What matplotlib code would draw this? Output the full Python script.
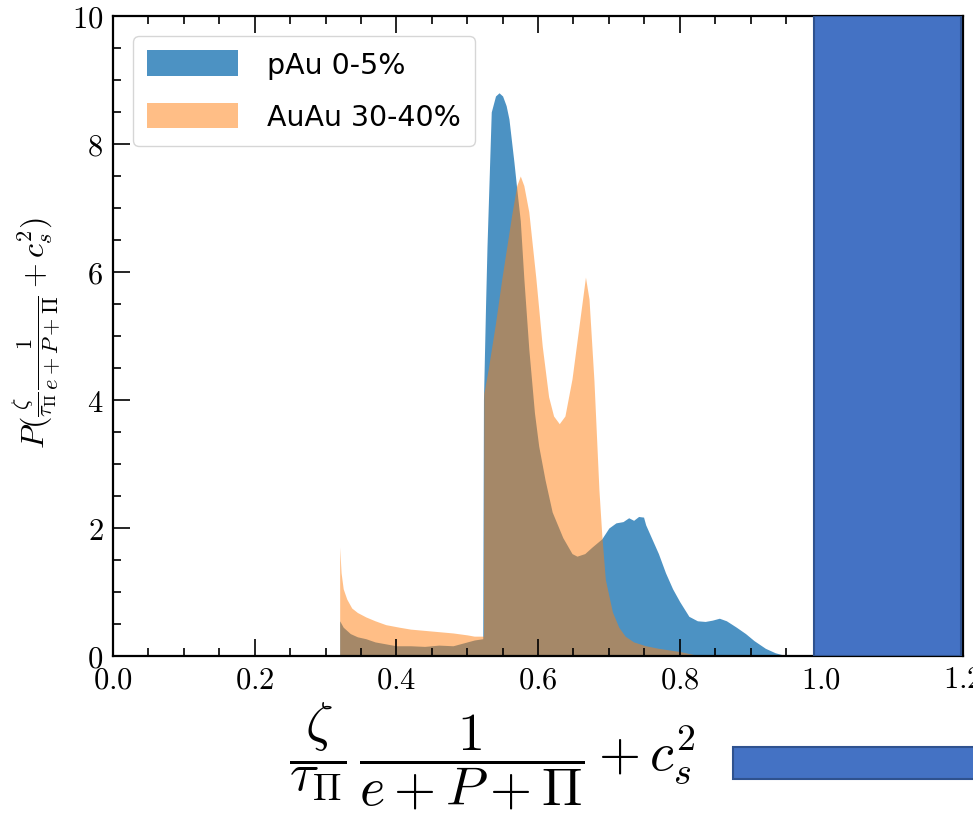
import matplotlib
matplotlib.use("Agg")
import matplotlib.pyplot as plt
from matplotlib.patches import Rectangle
from matplotlib.ticker import MultipleLocator

plt.rcParams["font.family"] = "serif"
plt.rcParams["font.serif"] = ["cmr10"]
plt.rcParams["mathtext.fontset"] = "cm"
plt.rcParams["axes.formatter.use_mathtext"] = True

# pAu 0-5%
pau_x = [0.320, 0.320, 0.325, 0.335, 0.345, 0.357, 0.370, 0.385, 0.400, 0.420,
         0.440, 0.460, 0.480, 0.500, 0.510, 0.522, 0.523, 0.526, 0.528, 0.534,
         0.540, 0.545, 0.550, 0.555, 0.559, 0.566, 0.570, 0.575, 0.580, 0.587,
         0.595, 0.601, 0.610, 0.620, 0.635, 0.648, 0.655, 0.666, 0.676, 0.690,
         0.700, 0.710, 0.720, 0.728, 0.735, 0.742, 0.749, 0.752, 0.760, 0.770,
         0.780, 0.790, 0.800, 0.813, 0.825, 0.836, 0.846, 0.856, 0.866, 0.880,
         0.893, 0.905, 0.921, 0.935, 0.945, 0.960]
pau_y = [0.0, 0.55, 0.45, 0.35, 0.30, 0.27, 0.22, 0.19, 0.16, 0.16,
         0.15, 0.17, 0.16, 0.22, 0.25, 0.27, 4.0, 5.5, 6.4, 8.5,
         8.75, 8.8, 8.75, 8.6, 8.39, 7.72, 7.3, 6.8, 5.9, 4.8,
         3.8, 3.28, 2.75, 2.25, 1.85, 1.6, 1.56, 1.6, 1.7, 1.83,
         2.0, 2.08, 2.1, 2.16, 2.12, 2.18, 2.17, 2.05, 1.85, 1.6,
         1.3, 1.05, 0.85, 0.62, 0.55, 0.54, 0.56, 0.59, 0.55, 0.45,
         0.35, 0.24, 0.12, 0.05, 0.02, 0.0]

# AuAu 30-40%
auau_x = [0.320, 0.320, 0.322, 0.325, 0.330, 0.337, 0.345, 0.357, 0.370, 0.385,
          0.404, 0.420, 0.450, 0.480, 0.500, 0.510, 0.523, 0.5235, 0.530, 0.540,
          0.549, 0.556, 0.563, 0.570, 0.575, 0.580, 0.587, 0.597, 0.606, 0.615,
          0.622, 0.630, 0.638, 0.648, 0.656, 0.662, 0.667, 0.672, 0.679, 0.686,
          0.690, 0.695, 0.705, 0.714, 0.723, 0.735, 0.752, 0.770, 0.800, 0.830]
auau_y = [0.0, 1.7, 1.3, 1.05, 0.89, 0.75, 0.68, 0.61, 0.55, 0.49,
          0.45, 0.42, 0.39, 0.36, 0.33, 0.31, 0.31, 4.1, 4.5, 5.2,
          5.9, 6.4, 6.9, 7.35, 7.5, 7.35, 6.94, 5.9, 4.84, 4.05,
          3.75, 3.63, 3.75, 4.33, 5.0, 5.5, 5.92, 5.58, 4.3, 2.6,
          1.9, 1.2, 0.69, 0.45, 0.31, 0.22, 0.16, 0.12, 0.07, 0.0]

fig = plt.figure(figsize=(9.73, 8.28), dpi=100)
ax = fig.add_axes([113 / 973, 1 - 657 / 828, 850 / 973, 640 / 828])

ax.fill_between(pau_x, pau_y, color="tab:blue", alpha=0.8, lw=0, label="pAu 0-5%")
ax.fill_between(auau_x, auau_y, color="tab:orange", alpha=0.5, lw=0, label="AuAu 30-40%")

# overlay box on the right
ax.axvspan(0.99, 1.197, facecolor="#4472C4", edgecolor="#2F528F", lw=1.5, zorder=3)

ax.set_xlim(0, 1.2)
ax.set_ylim(0, 10)
ax.xaxis.set_major_locator(MultipleLocator(0.2))
ax.xaxis.set_minor_locator(MultipleLocator(0.05))
ax.yaxis.set_major_locator(MultipleLocator(2))
ax.yaxis.set_minor_locator(MultipleLocator(0.5))
ax.tick_params(which="both", direction="in", top=True, right=True, labelsize=22, width=1.2)
ax.tick_params(which="major", length=12, pad=7)
ax.tick_params(which="minor", length=6)
for s in ax.spines.values():
    s.set_linewidth(1.6)

leg = ax.legend(loc="upper left", prop={"family": "DejaVu Sans", "size": 20.5},
                handlelength=3.2, handleheight=1.0, handletextpad=1.0,
                labelspacing=0.85, borderaxespad=0.7, borderpad=0.5)

fig.text(37 / 973, 1 - 333 / 828, r"$P(\frac{\zeta}{\tau_\Pi}\frac{1}{e+P+\Pi}+c_s^2)$",
         rotation=90, ha="center", va="center", fontsize=23)

fig.text(492 / 973, 1 - 756 / 828, r"$\dfrac{\zeta}{\tau_\Pi}\,\dfrac{1}{e+P+\Pi}+c_s^2$",
         ha="center", va="center", fontsize=39)

fig.patches.append(Rectangle((733 / 973, 1 - 780 / 828), 260 / 973, 32 / 828,
                             transform=fig.transFigure, facecolor="#4472C4",
                             edgecolor="#2F528F", lw=1.5))

fig.savefig("out.png", dpi=100)
